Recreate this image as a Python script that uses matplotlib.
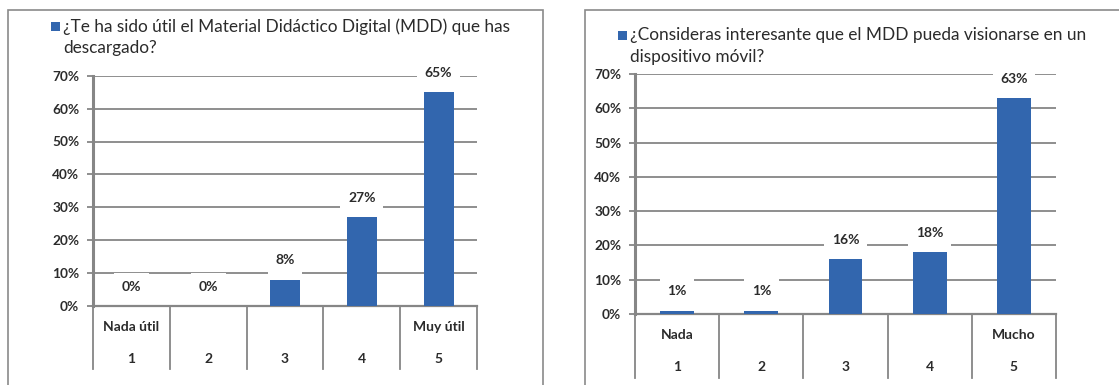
import matplotlib.pyplot as plt
import numpy as np
from matplotlib.patches import Rectangle
from matplotlib.transforms import blended_transform_factory

plt.rcParams['font.family'] = ['Lato', 'DejaVu Sans']

W, H = 1119, 385

# survey answers, percent of respondents per score
scores = ['1', '2', '3', '4', '5']
utility_ends = ['Nada útil', '', '', '', 'Muy útil']
utility_values = [0, 0, 8, 27, 65]
mobile_ends = ['Nada', '', '', '', 'Mucho']
mobile_values = [1, 1, 16, 18, 63]
utility_title = '¿Te ha sido útil el Material Didáctico Digital (MDD) que has\ndescargado?'
mobile_title = '¿Consideras interesante que el MDD pueda visionarse en un\ndispositivo móvil?'
yticks = [0, 10, 20, 30, 40, 50, 60, 70]

BLUE = '#3266ae'
GRID = '#868686'
TEXT = '#2b2b2b'


def px(x0, y0, x1, y1):
    # pixel box (top-left origin) -> figure fraction rect
    return [x0 / W, 1 - y1 / H, (x1 - x0) / W, (y1 - y0) / H]


def draw_panel(fig, rect, values, ends, bar_width, table_px, row1_px, row2_px):
    ax = fig.add_axes(rect)
    x = np.arange(len(values))
    ax.bar(x, values, width=bar_width, color=BLUE, zorder=3)
    ax.set_xlim(-0.5, len(values) - 0.5)
    ax.set_ylim(0, 70)
    ax.set_yticks(yticks)
    ax.set_yticklabels([f'{t}%' for t in yticks], fontsize=9.8,
                       fontweight='bold', color=TEXT)
    ax.set_xticks([])
    ax.yaxis.grid(True, color=GRID, lw=1.3)
    ax.set_axisbelow(True)
    for side in ['top', 'right', 'bottom']:
        ax.spines[side].set_visible(False)
    ax.spines['left'].set_color(GRID)
    ax.spines['left'].set_linewidth(2.2)
    ax.tick_params(axis='y', length=4, width=1.3, color=GRID, pad=6)
    ax.axhline(0, color=GRID, lw=1.6, zorder=2, clip_on=False)

    for i, v in enumerate(values):
        ax.annotate(f'{v}%', (i, v), xytext=(0, 14), textcoords='offset points',
                    ha='center', va='center', fontsize=10, fontweight='bold',
                    color=TEXT, zorder=4,
                    bbox=dict(boxstyle='square,pad=0.55', fc='white', ec='none'))

    # category table under the axis
    hpx = rect[3] * H
    depth = table_px / hpx
    trans = blended_transform_factory(ax.transData, ax.transAxes)
    for b in np.arange(-0.5, len(values)):
        ax.plot([b, b], [0, -depth], color=GRID, lw=1.3, transform=trans,
                clip_on=False)
    for i, (lab, sc) in enumerate(zip(ends, scores)):
        ax.text(i, -row1_px / hpx, lab, transform=trans, ha='center', va='center',
                fontsize=10, fontweight='bold', color=TEXT)
        ax.text(i, -row2_px / hpx, sc, transform=trans, ha='center', va='center',
                fontsize=10, fontweight='bold', color=TEXT)
    return ax


def main():
    fig = plt.figure(figsize=(W / 100, H / 100), dpi=100)

    # panel frames
    fig.patches.append(Rectangle((8 / W, -0.1), (543 - 8) / W, 1 - 10 / H + 0.1,
                                 transform=fig.transFigure, fill=False,
                                 ec='#8a8a8a', lw=1.2))
    fig.patches.append(Rectangle((585 / W, -0.1), 0.6, 1 - 10 / H + 0.1,
                                 transform=fig.transFigure, fill=False,
                                 ec='#8a8a8a', lw=1.2))

    draw_panel(fig, px(93, 75.7, 477, 306), utility_values, utility_ends,
               0.39, 63, 21, 53)
    draw_panel(fig, px(635, 74, 1056, 314), mobile_values, mobile_ends,
               0.40, 64, 21, 53)

    # legend-style titles
    fig.patches.append(Rectangle((51 / W, 1 - 31 / H), 9 / W, 9 / H,
                                 transform=fig.transFigure, fc=BLUE, ec='none'))
    fig.text(63 / W, 1 - 18 / H, utility_title, ha='left', va='top',
             fontsize=12.4, color=TEXT, linespacing=1.45)
    fig.patches.append(Rectangle((618 / W, 1 - 40 / H), 9 / W, 9 / H,
                                 transform=fig.transFigure, fc=BLUE, ec='none'))
    fig.text(630 / W, 1 - 27 / H, mobile_title, ha='left', va='top',
             fontsize=12.4, color=TEXT, linespacing=1.45)

    fig.savefig('out.png', dpi=100)


if __name__ == '__main__':
    main()
